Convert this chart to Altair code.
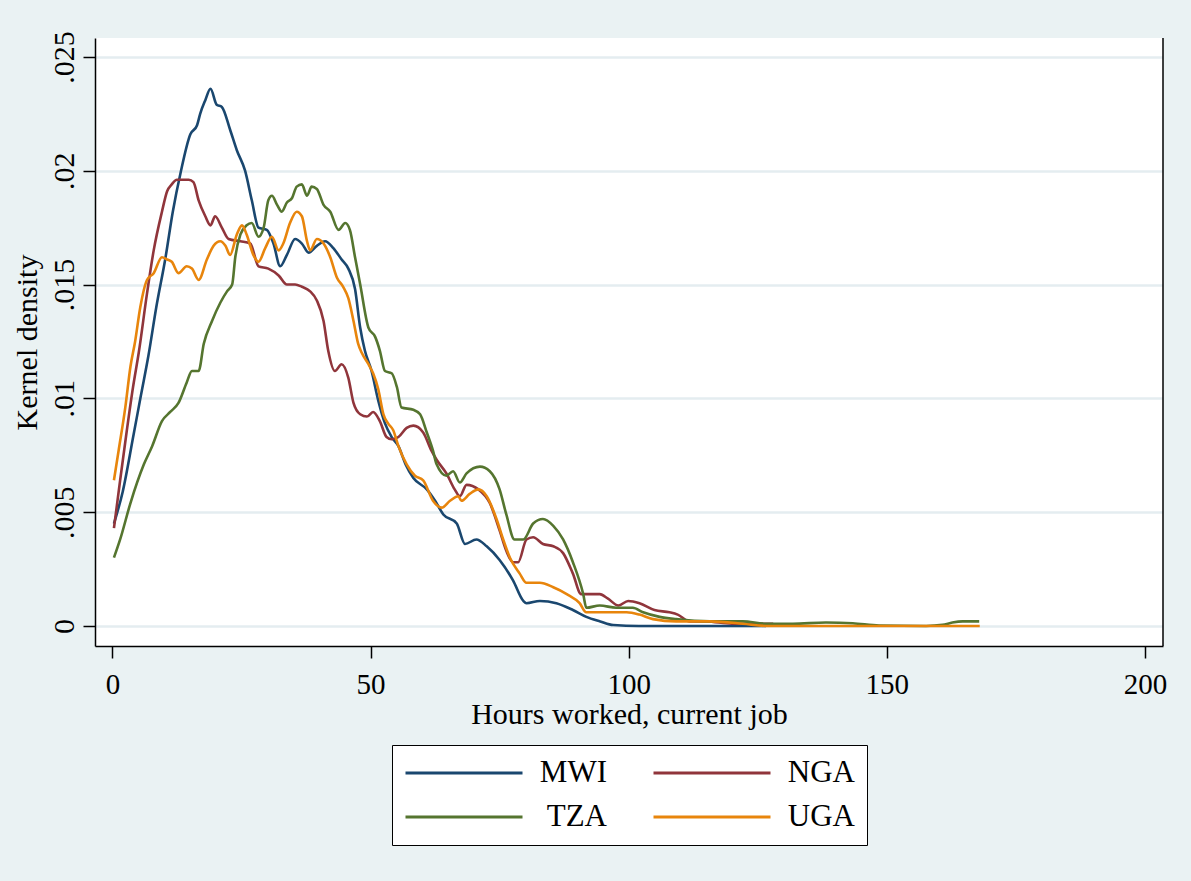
import altair as alt
import pandas as pd

countries = ["MWI", "NGA", "TZA", "UGA"]
colors = ["#1a476f", "#90353b", "#55752f", "#e8850c"]

mwi_h = [0.3, 2, 4.1, 5.5, 7, 8.5, 10.3, 11.7, 13.2, 15.1, 16.4, 17, 18, 19, 20.2, 21.2, 22.8, 24.1, 25.7, 27,
         28.3, 29.9, 31.2, 32.5, 33.8, 35.4, 36.7, 38, 39.6, 41.2, 42.8, 44.4, 45.7, 47, 48, 48.9, 50.2, 51.5, 52.8, 54.1,
         55.4, 56.8, 58.3, 60.9, 62.5, 64.1, 66.7, 68.3, 70.5, 72.5, 75, 77.6, 79.6, 80.2, 82.8, 86, 89.2, 91.8, 94.5, 97,
         102, 110, 120, 126.6]
mwi_d = [.0045, .0059, .0084, .0101, .0119, .0140, .0162, .0182, .0199, .0216, .0220, .0225, .0231, .0236, .0229, .0228, .0218, .0209, .0200, .0187,
         .0175, .0174, .0168, .0158, .0163, .0170, .0168, .0164, .0167, .0169, .0166, .0161, .0157, .0148, .0131, .0121, .0112, .0099, .0089, .0083,
         .0079, .0071, .0065, .0060, .0055, .0049, .0045, .0036, .0038, .0035, .0029, .0020, .0011, .0010, .0011, .0010, .0007, .0004, .0002, .00004,
         0, 0, 0, 0]

nga_h = [0.3, 1.5, 2.8, 4, 5.1, 6.7, 8, 9.6, 10.6, 11.5, 12.5, 13.5, 14.8, 15.7, 16.7, 18, 19, 19.9, 21.2, 22.5,
         24.8, 26.7, 28.3, 30.2, 32.2, 33.8, 35.4, 36.7, 38.3, 39.6, 40.9, 41.8, 43.1, 44.4, 45.7, 46.7, 48, 49.3, 50.5, 51.8,
         53.1, 54.1, 55.4, 57, 58.3, 60.2, 61.8, 62.8, 64.7, 66.3, 67.3, 68.6, 70.9, 73.1, 75, 76.3, 77.6, 78.6, 80.2, 81.5,
         83.4, 85.4, 87.3, 89.2, 90.8, 92.5, 94.4, 96, 98, 99.9, 102.1, 105, 107.9, 109.5, 111.8, 115, 120, 128]
nga_d = [.0043, .0064, .0086, .0105, .0120, .0146, .0165, .0182, .0191, .0194, .0196, .0196, .0196, .0195, .0187, .0180, .0176, .0180, .0175, .0170,
         .0169, .0168, .0158, .0157, .0154, .0150, .0150, .0149, .0147, .0143, .0134, .0121, .0112, .0115, .0109, .0098, .0093, .0092, .0094, .0090,
         .0083, .0082, .0083, .0087, .0088, .0085, .0077, .0073, .0067, .0060, .0057, .0062, .0060, .0054, .0042, .0033, .0028, .0028, .0038, .0039,
         .0036, .0035, .0032, .0023, .0014, .0014, .0014, .0012, .0009, .0011, .0010, .0007, .0006, .0005, .0002, .0002, .0001, .0001]

tza_h = [0.3, 1.5, 3.5, 6.1, 7.7, 9.6, 11.2, 12.8, 14.4, 15.4, 16.7, 17.7, 19.3, 20.9, 22.2, 23.2, 23.8, 24.8, 26, 27,
         28.3, 29.3, 30.2, 30.9, 31.9, 32.8, 33.8, 34.8, 35.7, 36.7, 37.7, 38.6, 39.6, 40.9, 42.2, 43.8, 45.1, 46, 47, 48,
         49.6, 50.9, 51.8, 52.8, 54.1, 55.1, 56, 58.3, 59.6, 60.9, 62.1, 62.8, 64.7, 66, 67.3, 68.6, 71.2, 73.1, 75, 76.3,
         77.9, 79.6, 81.5, 83.4, 85.4, 87.3, 89.2, 91.2, 91.8, 94.4, 97.6, 100.8, 102.8, 106, 109.2, 115.7, 122.1, 126.6, 131.8, 138.2,
         143.4, 148.5, 157.6, 160.8, 162.7, 164.7, 167.9]
tza_d = [.0030, .0038, .0054, .0071, .0079, .0090, .0094, .0098, .0107, .0112, .0112, .0124, .0134, .0142, .0147, .0150, .0162, .0172, .0176, .0177,
         .0171, .0175, .0187, .0189, .0185, .0182, .0186, .0188, .0193, .0194, .0189, .0193, .0192, .0185, .0182, .0174, .0177, .0174, .0162, .0150,
         .0131, .0127, .0121, .0112, .0111, .0105, .0096, .0095, .0093, .0085, .0077, .0071, .0066, .0068, .0063, .0067, .0070, .0068, .0060, .0049,
         .0038, .0038, .0045, .0047, .0044, .0038, .0028, .0014, .0008, .0009, .0008, .0008, .0006, .0004, .0003, .0002, .0002, .0001, .0001, .00015,
         .00012, .00002, 0, .00005, .00015, .0002, .0002]

uga_h = [0.3, 1.2, 2.5, 3.5, 4.4, 5.4, 6.7, 8, 9.6, 10.6, 11.5, 12.8, 14.4, 15.4, 16.7, 18.3, 19.6, 20.9, 21.9, 22.8,
         24.1, 25.1, 26, 27.3, 28.3, 29.6, 30.9, 32.2, 33.1, 34.4, 35.7, 36.7, 37.7, 38.3, 39.6, 40.9, 42.2, 43.5, 44.7, 45.7,
         46.7, 47.6, 48.3, 49.6, 50.5, 51.5, 52.5, 53.4, 54.4, 55.4, 57, 58.6, 60.2, 62.1, 63.8, 65.4, 67, 67.6, 69.2, 70.9,
         72.5, 74.4, 75.7, 77, 78.9, 80.2, 82.8, 85.4, 88, 90.5, 91.8, 95.7, 99.6, 102.1, 104.7, 109.2, 115.7, 122.1, 126.6, 168]
uga_d = [.0064, .0077, .0096, .0114, .0125, .0140, .0152, .0155, .0162, .0161, .0160, .0155, .0158, .0157, .0152, .0161, .0167, .0169, .0167, .0163,
         .0172, .0176, .0172, .0163, .0160, .0166, .0171, .0165, .0168, .0177, .0182, .0180, .0169, .0165, .0170, .0168, .0162, .0153, .0149, .0144,
         .0134, .0124, .0120, .0115, .0111, .0104, .0093, .0089, .0086, .0079, .0071, .0066, .0064, .0055, .0052, .0055, .0057, .0055, .0058, .0060,
         .0057, .0047, .0038, .0030, .0023, .0019, .0019, .0017, .0014, .0010, .0006, .0006, .0006, .0005, .0003, .0002, .0002, .0001, 0, 0]

x_ticks = [0, 50, 100, 150, 200]
y_ticks = [0, 0.005, 0.01, 0.015, 0.02, 0.025]

series = {"MWI": (mwi_h, mwi_d), "NGA": (nga_h, nga_d), "TZA": (tza_h, tza_d), "UGA": (uga_h, uga_d)}
frames = []
for name, (hs, ds) in series.items():
    frames.append(pd.DataFrame({"hours": hs, "density": ds, "country": name}))
df = pd.concat(frames, ignore_index=True)

FONT = "Liberation Serif"
W, H = 1068, 608

lines = alt.Chart(df).mark_line(strokeWidth=2.6, interpolate="monotone").encode(
    x=alt.X("hours:Q",
            scale=alt.Scale(domain=[-3.37, 203.5], nice=False, zero=False),
            axis=alt.Axis(values=x_ticks, title="Hours worked, current job", grid=False,
                          tickSize=12, labelPadding=12, titlePadding=0,
                          labelFontSize=29, titleFontSize=30)),
    y=alt.Y("density:Q",
            scale=alt.Scale(domain=[-0.00088, 0.02583], nice=False, zero=False),
            axis=alt.Axis(values=y_ticks, title="Kernel density", grid=True,
                          gridColor="#e4edf0", gridWidth=2.5,
                          tickSize=12, labelPadding=4, labelAngle=270,
                          labelAlign="center", labelBaseline="bottom",
                          labelExpr="datum.value == 0 ? '0' : slice(format(datum.value, '.3~f'), 1)",
                          labelFontSize=30, titleFontSize=30, titlePadding=7)),
    color=alt.Color("country:N", scale=alt.Scale(domain=countries, range=colors),
                    legend=alt.Legend(title=None, orient="none", legendX=297, legendY=707,
                                      columns=2, direction="horizontal",
                                      symbolType="stroke", symbolSize=13689, symbolStrokeWidth=3,
                                      clipHeight=32, labelFontSize=31, labelFont=FONT,
                                      labelAlign="right", labelOffset=83,
                                      columnPadding=45, rowPadding=12, padding=12,
                                      strokeColor="black", fillColor="white", labelLimit=300))
)

frame_right = alt.Chart(pd.DataFrame({"k": [0]})).mark_rule(color="black", strokeWidth=1.5).encode(
    x=alt.value(W), y=alt.value(0), y2=alt.value(H)
)

chart = alt.layer(lines, frame_right).properties(
    width=W, height=H,
    autosize=alt.AutoSizeParams(type="none"),
    padding={"left": 95, "top": 38, "right": 28, "bottom": 235},
    background="#eaf2f3"
).configure_view(
    fill="white", stroke=None
).configure_axis(
    labelFont=FONT, titleFont=FONT, labelColor="black", titleColor="black",
    domainColor="black", domainWidth=1.5, tickColor="black", tickWidth=1.5,
    titleFontWeight="normal"
)

chart.save("out.html", embed_options={"renderer": "svg", "actions": False})
